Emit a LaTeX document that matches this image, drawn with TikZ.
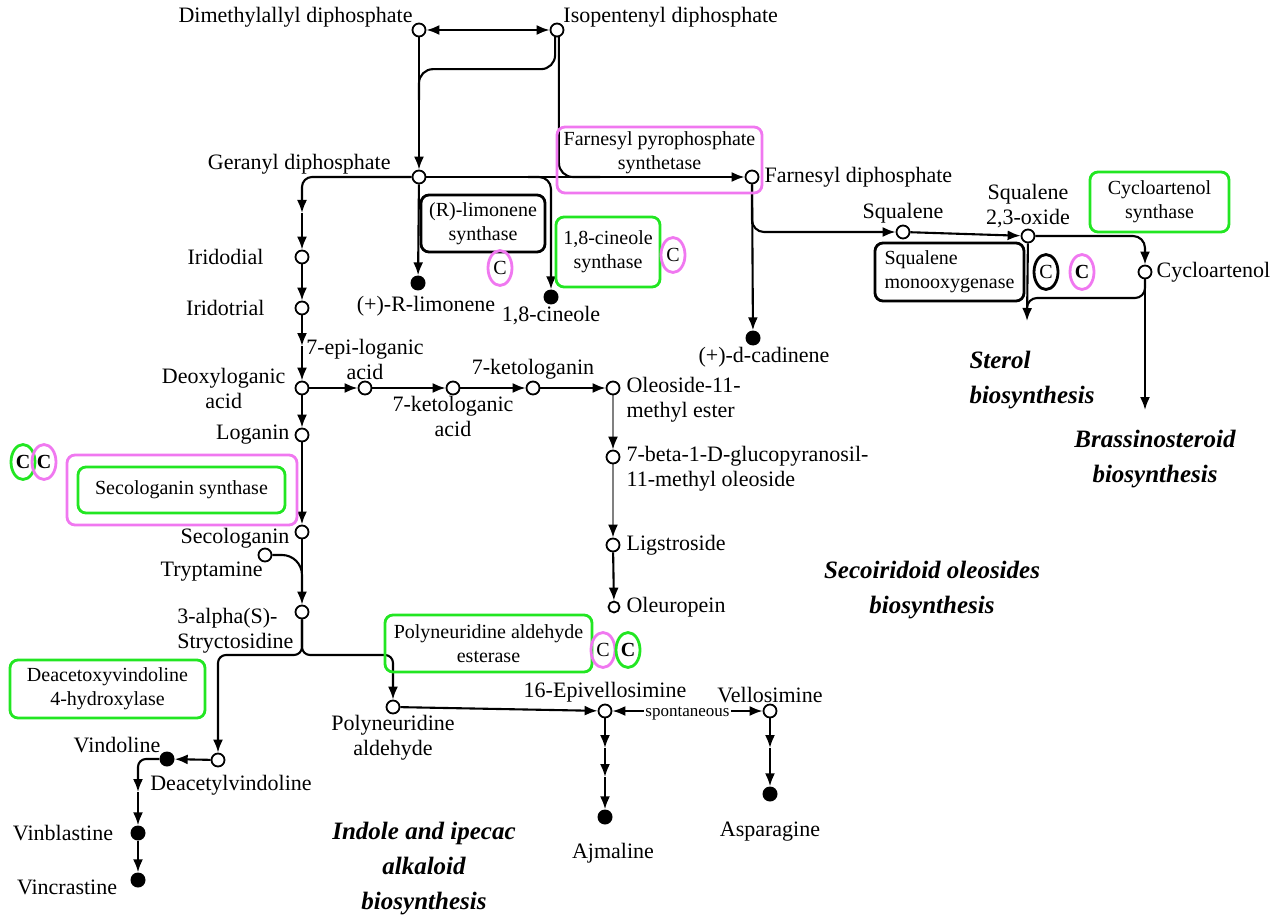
\documentclass[tikz,border=0pt]{standalone}
\usepackage{fontspec}
\setmainfont{Liberation Serif}
\usetikzlibrary{arrows.meta,shapes.geometric}
\pgfdeclarelayer{bg}
\pgfsetlayers{bg,main}
\definecolor{pinkc}{RGB}{240,120,240}
\definecolor{greenc}{RGB}{34,230,34}
\newcommand\labfont{\fontsize{22}{25}\selectfont}
\newcommand\enzfont{\fontsize{20}{24}\selectfont}
\newcommand\spfont{\fontsize{17}{19}\selectfont}
\newcommand\ttlfont{\fontsize{25}{35}\selectfont\bfseries\itshape}

\begin{document}
\begin{tikzpicture}[x=1pt, y=-1pt,
        met/.style={circle, draw, fill=white, line width=1.8pt, minimum size=13pt, inner sep=0pt},
        fin/.style={circle, fill=black, minimum size=15pt, inner sep=0pt},
        enz/.style={draw=#1, rounded corners=8pt, line width=2.8pt, align=center, font=\enzfont, inner sep=2pt},
        cc/.style={ellipse, draw=#1, line width=2.8pt, inner sep=0pt, minimum width=24pt, minimum height=35pt, font=\enzfont},
        ttl/.style={font=\ttlfont, align=center},
        link/.style={line width=2.1pt},
        goes/.style={link, -{Latex[length=13pt,width=10pt]}},
        greygo/.style={link, draw=black!50, -{Latex[length=13pt,width=10pt,color=black]}},
        twoway/.style={link, {Latex[length=13pt,width=10pt]}-{Latex[length=13pt,width=10pt]}},
        spon/.style={fill=white, font=\spfont, inner sep=1pt, yshift=-3pt},
        every label/.style={font=\labfont, inner sep=1pt, align=center}]
        \useasboundingbox (0,0) rectangle (1277,917);
        \node (v0) [met, label={[yshift=-4pt]above left:{Dimethylallyl diphosphate}}] at (419,30) {};
        \node (v1) [met, label={[yshift=-4pt]above right:{Isopentenyl diphosphate}}] at (557,30) {};
        \node (v2) [met, label={[xshift=-22pt,yshift=-4pt]above left:{Geranyl diphosphate}}] at (419,177) {};
        \node (v3) [met, label={[label distance=4pt]right:{Farnesyl diphosphate}}] at (752,177) {};
        \node (v4) [fin, label={[xshift=8pt,yshift=-4pt]below:{(+)-R-limonene}}] at (418,283) {};
        \node (v5) [fin, label={below:{1,8-cineole}}] at (551,297) {};
        \node (v6) [fin, label={[xshift=11pt]below:{(+)-d-cadinene}}] at (753,338) {};
        \node (v7) [met, label={above:{Squalene}}] at (903,232) {};
        \node (v8) [met, label={above:{Squalene\\2,3-oxide}}] at (1028,236) {};
        \node (v9) [met, label={[label distance=3pt]right:{Cycloartenol}}] at (1145,272) {};
        \node (v10) [met, label={[label distance=30pt]left:{Iridodial}}] at (302,257) {};
        \node (v11) [met, label={[label distance=29pt]left:{Iridotrial}}] at (302,308) {};
        \node (v12) [met, label={[label distance=8pt]left:{Deoxyloganic\\acid}}] at (302,388) {};
        \node (v13) [met, label={[label distance=4pt]left:{Loganin}}] at (302,435) {};
        \node (v14) [met, label={[label distance=4pt,yshift=-6pt]left:{Secologanin}}] at (302,532) {};
        \node (v15) [met, label={[xshift=4pt]below left:{Tryptamine}}] at (265,555) {};
        \node (v16) [met, label={[yshift=-19pt,align=left]left:{3-alpha(S)-\\Stryctosidine}}] at (302,612) {};
        \node (v17) [met, label={below:{Polyneuridine\\aldehyde}}] at (393,707) {};
        \node (v18) [met, label={above:{16-Epivellosimine}}] at (605,711) {};
        \node (v19) [met, label={above:{Vellosimine}}] at (770,711) {};
        \node (v20) [fin, label={[xshift=8pt,yshift=-17pt]below:{Ajmaline}}] at (605,817) {};
        \node (v21) [fin, label={[yshift=-19pt]below:{Asparagine}}] at (770,794) {};
        \node (v22) [met, label={[xshift=13pt,yshift=-7pt]below:{Deacetylvindoline}}] at (218,760) {};
        \node (v23) [fin, label={above left:{Vindoline}}] at (167,759) {};
        \node (v24) [fin, label={[label distance=16pt]left:{Vinblastine}}] at (138,833) {};
        \node (v25) [fin, label={[label distance=12pt,yshift=-7pt]left:{Vincrastine}}] at (138,880) {};
        \node (v26) [met, label={above:{7-epi-loganic\\acid}}] at (365,388) {};
        \node (v27) [met, label={below:{7-ketologanic\\acid}}] at (453,388) {};
        \node (v28) [met, label={above:{7-ketologanin}}] at (533,388) {};
        \node (v29) [met, label={[label distance=5pt,yshift=-12pt,align=left]right:{Oleoside-11-\\methyl ester}}] at (613,388) {};
        \node (v30) [met, label={[label distance=5pt,yshift=-12pt,align=left]right:{7-beta-1-D-glucopyranosil-\\11-methyl oleoside}}] at (613,457) {};
        \node (v31) [met, label={[label distance=5pt]right:{Ligstroside}}] at (613,545) {};
        \node (v32) [met, minimum size=11pt, label={[label distance=5pt]right:{Oleuropein}}] at (614,607) {};
        \node (e0) [enz=pinkc, text depth=18pt, minimum width=205pt, minimum height=66pt] at (659.5,160) {Farnesyl pyrophosphate\\synthetase};
        \node (e1) [enz=black, minimum width=124pt, minimum height=57pt] at (483,223.5) {(R)-limonene\\synthase};
        \node (e2) [enz=greenc, minimum width=104pt, minimum height=70pt] at (608,252) {1,8-cineole\\synthase};
        \node (e3) [enz=black, align=left, minimum width=149pt, minimum height=58pt] at (949.5,272) {Squalene\\monooxygenase};
        \node (e4) [enz=greenc, minimum width=139pt, minimum height=60pt] at (1159.5,202) {Cycloartenol\\synthase};
        \node (e5) [enz=pinkc, minimum width=230pt, minimum height=70pt] at (182,490) {};
        \node (e6) [enz=greenc, minimum width=207pt, minimum height=46pt] at (181.5,490) {Secologanin synthase};
        \node (e7) [enz=greenc, minimum width=207pt, minimum height=57pt] at (488.5,643.5) {Polyneuridine aldehyde\\esterase};
        \node (e8) [enz=greenc, minimum width=195pt, minimum height=58pt] at (107.5,689) {Deacetoxyvindoline\\4-hydroxylase};
        \node (c0) [cc=pinkc] at (500,268) {C};
        \node (c1) [cc=pinkc] at (673,255) {C};
        \node (c2) [cc=black] at (1046,272) {C};
        \node (c3) [cc=pinkc, font=\enzfont\bfseries] at (1082,272) {C};
        \node (c4) [cc=greenc, font=\enzfont\bfseries] at (23,462) {C};
        \node (c5) [cc=pinkc, font=\enzfont\bfseries] at (44,462) {C};
        \node (c6) [cc=pinkc] at (603,650) {C};
        \node (c7) [cc=greenc, font=\enzfont\bfseries] at (628,650) {C};
        \node (t0) [ttl, align=left, anchor=west] at (966,380) {Sterol\\biosynthesis};
        \node (t1) [ttl] at (1155,459) {Brassinosteroid\\biosynthesis};
        \node (t2) [ttl] at (932,590) {Secoiridoid oleosides\\biosynthesis};
        \node (t3) [ttl] at (424,869) {Indole and ipecac\\alkaloid\\biosynthesis};
        \coordinate (j0) at (419,100);
        \coordinate (j1) at (600,177);
        \coordinate (j2) at (302,592);
        \coordinate (j3) at (250,655);
        \coordinate (j4) at (350,655);
        \coordinate (j5) at (1027,315);
        \coordinate (j6) at (528,177);
        \coordinate (j7) at (1027,298);
        \coordinate (s0) at (1027,321);
        \coordinate (s1) at (1145,410);
        \coordinate (a0) at (302,213);
        \coordinate (a1) at (302,346);
        \coordinate (a2) at (138,792);
        \coordinate (a3) at (605,748);
        \coordinate (a4) at (605,777);
        \coordinate (a5) at (770,748);
        \begin{pgfonlayer}{bg}
                \draw (v0) edge [twoway] (v1);
                \draw (v0) edge [goes] (v2);
                \draw [link, rounded corners=14pt] (v1.255) -- ++(0,32) -| (j0);
                \draw [link, rounded corners=14pt] (v1.285) |- (j1);
                \draw (v2) edge [goes] (v3);
                \draw (v2) edge [goes] (v4);
                \draw [goes, rounded corners=12pt] (j6) -| (v5);
                \draw [goes, rounded corners=10pt] (v2) -| (a0);
                \draw (a0) edge [goes] (v10);
                \draw (v10) edge [goes] (v11);
                \draw (v11) edge [goes] (a1);
                \draw (a1) edge [goes] (v12);
                \draw (v12) edge [goes] (v13);
                \draw (v13) edge [goes, line width=2.8pt] (v14);
                \draw (v14) edge [goes] (v16);
                \draw [link, rounded corners=20pt] (v15) -| (j2);
                \draw [goes, rounded corners=8pt] (v16) |- (j3) -| (v22);
                \draw [goes, rounded corners=8pt] (v16) |- (j4) -| (v17);
                \draw (v22) edge [goes] (v23);
                \draw [goes, rounded corners=8pt] (v23) -| (a2);
                \draw (a2) edge [goes] (v24);
                \draw (v24) edge [goes] (v25);
                \draw (v12) edge [goes] (v26);
                \draw (v26) edge [goes] (v27);
                \draw (v27) edge [goes] (v28);
                \draw (v28) edge [goes] (v29);
                \draw (v29) edge [greygo] (v30);
                \draw (v30) edge [greygo] (v31);
                \draw (v31) edge [goes] (v32);
                \draw (v17) edge [goes] (v18);
                \draw (v18) edge [twoway] node (sp) [spon] {spontaneous} (v19);
                \draw (v18) edge [goes] (a3);
                \draw (a3) edge [goes] (a4);
                \draw (a4) edge [goes] (v20);
                \draw (v19) edge [goes] (a5);
                \draw (a5) edge [goes] (v21);
                \draw (v3) edge [goes] (v6);
                \draw [goes, rounded corners=12pt] (v3) |- (v7);
                \draw (v7) edge [goes] (v8);
                \draw (v8) edge [goes] (s0);
                \draw [goes, rounded corners=12pt] (v8) -| (v9);
                \draw [link, rounded corners=10pt] (v9) |- (j7) -- (j5);
                \draw (v9) edge [goes] (s1);
        \end{pgfonlayer}
\end{tikzpicture}
\end{document}
